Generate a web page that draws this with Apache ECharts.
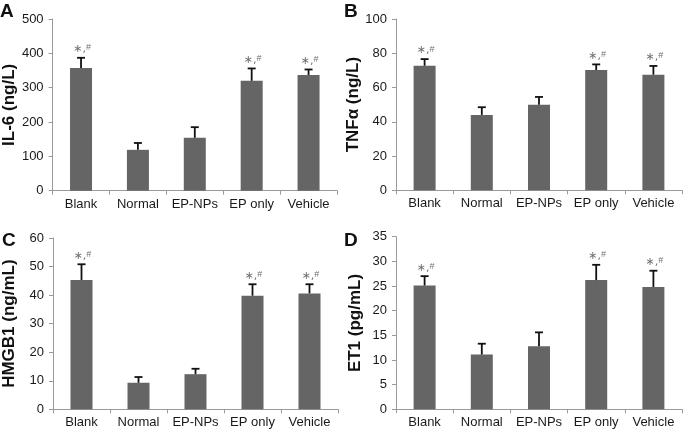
<!DOCTYPE html>
<html>
<head>
<meta charset="utf-8">
<script src="https://cdn.jsdelivr.net/npm/echarts@6/dist/echarts.min.js"></script>
<style>
html,body{margin:0;padding:0;background:#fff;}
#c{width:684px;height:432px;}
</style>
</head>
<body>
<div id="c"></div>
<script>
var categories = ["Blank", "Normal", "EP-NPs", "EP only", "Vehicle"];
var marks = ["*,#", "", "", "*,#", "*,#"];

var il6Mean = [357, 119, 154, 320, 337];
var il6Err  = [30, 20, 31, 36, 16];

var tnfMean = [72.7, 44, 50, 70.2, 67.5];
var tnfErr  = [3.9, 4.5, 4.5, 3.3, 5.1];

var hmgbMean = [45.3, 9.3, 12.3, 39.8, 40.6];
var hmgbErr  = [5.5, 2.0, 1.9, 4.0, 3.2];

var et1Mean = [25.1, 11.1, 12.8, 26.2, 24.8];
var et1Err  = [1.9, 2.2, 2.8, 3.1, 3.3];

var panels = [
  {letter: "A", name: "IL-6 (ng/L)", mean: il6Mean, err: il6Err, max: 500, interval: 100,
   grid: {left: 51, top: 19, width: 286, height: 171.7}, nameGap: 33, lx: 0, ly: 2},
  {letter: "B", name: "TNF\u03B1 (ng/L)", mean: tnfMean, err: tnfErr, max: 100, interval: 20,
   grid: {left: 396, top: 19, width: 286, height: 171.3}, nameGap: 34, lx: 344, ly: 2},
  {letter: "C", name: "HMGB1 (ng/mL)", mean: hmgbMean, err: hmgbErr, max: 60, interval: 10,
   grid: {left: 53, top: 238, width: 285, height: 171.3}, nameGap: 35, lx: 2, ly: 231},
  {letter: "D", name: "ET1 (pg/mL)", mean: et1Mean, err: et1Err, max: 35, interval: 5,
   grid: {left: 396, top: 236.7, width: 286, height: 172.6}, nameGap: 32, lx: 344, ly: 231}
];

var FONT = "Liberation Sans, Arial, sans-serif";
var grids = [], xAxes = [], yAxes = [], series = [], graphics = [];

function markText(label) {
  var parts = label.split(",");
  return "{s|\u2217,}{h|" + parts[1] + "}";
}

panels.forEach(function (p, i) {
  grids.push(Object.assign({containLabel: false}, p.grid));
  xAxes.push({
    type: "category", gridIndex: i, data: categories,
    axisLine: {lineStyle: {color: "#9a9a9a", width: 1}},
    axisTick: {show: true, length: 4, lineStyle: {color: "#9a9a9a"}},
    axisLabel: {color: "#1a1a1a", fontSize: 13, fontFamily: FONT, margin: 7, interval: 0}
  });
  yAxes.push({
    type: "value", gridIndex: i, min: 0, max: p.max, interval: p.interval,
    name: p.name, nameLocation: "middle", nameGap: p.nameGap, nameRotate: 90,
    nameTextStyle: {fontSize: 17, fontWeight: "bold", color: "#111", fontFamily: FONT},
    axisLine: {show: true, lineStyle: {color: "#9a9a9a", width: 1}},
    axisTick: {show: true, length: 4, lineStyle: {color: "#9a9a9a"}},
    axisLabel: {color: "#1a1a1a", fontSize: 13, fontFamily: FONT, margin: 9},
    splitLine: {show: false}
  });
  series.push({
    type: "bar", xAxisIndex: i, yAxisIndex: i, data: p.mean, barWidth: 22,
    itemStyle: {color: "#656565"}, silent: true, animation: false
  });
  var edata = p.mean.map(function (m, k) { return [k, m, m + p.err[k]]; });
  series.push({
    type: "custom", xAxisIndex: i, yAxisIndex: i, data: edata, animation: false, silent: true,
    z: 5,
    renderItem: function (params, api) {
      var x = api.value(0);
      var lo = api.coord([x, api.value(1)]);
      var hi = api.coord([x, api.value(2)]);
      var label = marks[params.dataIndex];
      var children = [
        {type: "line", shape: {x1: lo[0], y1: lo[1], x2: hi[0], y2: hi[1]},
         style: {stroke: "#111", lineWidth: 1.8}},
        {type: "line", shape: {x1: hi[0] - 4, y1: hi[1], x2: hi[0] + 4, y2: hi[1]},
         style: {stroke: "#111", lineWidth: 1.8}}
      ];
      if (label) {
        children.push({type: "text", x: hi[0] + 1, y: hi[1] - 3,
          style: {text: markText(label), align: "center", verticalAlign: "bottom",
                  rich: {
                    s: {fill: "#707070", fontSize: 11, fontFamily: "DejaVu Sans, sans-serif", lineHeight: 11},
                    h: {fill: "#707070", fontSize: 9, fontFamily: FONT, lineHeight: 11, padding: [0, 0, 3, 0]}
                  }}});
      }
      return {type: "group", children: children};
    }
  });
  graphics.push({type: "text", left: p.lx, top: p.ly,
    style: {text: p.letter, fontSize: 19, fontWeight: "bold", fill: "#111", fontFamily: FONT}});
});

var chart = echarts.init(document.getElementById("c"), null, {renderer: "canvas"});
chart.setOption({
  animation: false,
  backgroundColor: "#fff",
  grid: grids, xAxis: xAxes, yAxis: yAxes, series: series, graphic: graphics
});
</script>
</body>
</html>
